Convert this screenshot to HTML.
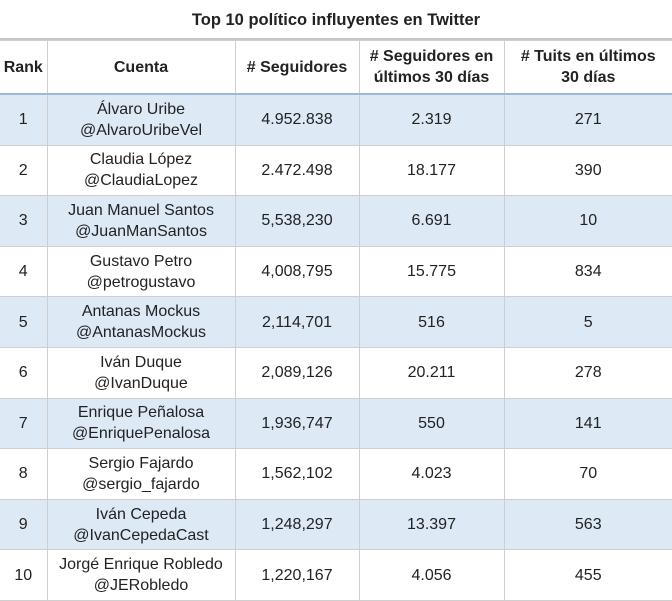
<!DOCTYPE html>
<html><head><meta charset="utf-8"><style>
body{margin:0;width:672px;height:600px;overflow:hidden;background:#fff;font-family:"Liberation Sans",Arial,sans-serif;color:#222}
.t{position:absolute;left:0;top:0;width:672px;height:40px;line-height:40px;text-align:center;font-weight:bold;font-size:16.5px;border-bottom:2px solid #c8c8c8;box-sizing:border-box}
table{position:absolute;left:0;top:40px;border-collapse:collapse;table-layout:fixed;width:672px}
td,th{border:1px solid #cfcfcf;text-align:center;font-size:16px;padding:0;line-height:21px}
th{height:52px;font-weight:bold;border-bottom:2px solid #9fb8d4}
td{height:49.6px}
tr.s td{background:#dde9f5}
td:first-child,th:first-child{border-left:none}
td:last-child,th:last-child{border-right:none}
</style></head><body>
<div class="t">Top 10 político influyentes en Twitter</div>
<table>
<colgroup><col style="width:47px"><col style="width:188px"><col style="width:124px"><col style="width:145px"><col style="width:168px"></colgroup>
<tr><th>Rank</th><th>Cuenta</th><th># Seguidores</th><th># Seguidores en<br>últimos 30 días</th><th># Tuits en últimos<br>30 días</th></tr>
<tr class="s"><td>1</td><td>Álvaro Uribe<br>@AlvaroUribeVel</td><td>4.952.838</td><td>2.319</td><td>271</td></tr>
<tr><td>2</td><td>Claudia López<br>@ClaudiaLopez</td><td>2.472.498</td><td>18.177</td><td>390</td></tr>
<tr class="s"><td>3</td><td>Juan Manuel Santos<br>@JuanManSantos</td><td>5,538,230</td><td>6.691</td><td>10</td></tr>
<tr><td>4</td><td>Gustavo Petro<br>@petrogustavo</td><td>4,008,795</td><td>15.775</td><td>834</td></tr>
<tr class="s"><td>5</td><td>Antanas Mockus<br>@AntanasMockus</td><td>2,114,701</td><td>516</td><td>5</td></tr>
<tr><td>6</td><td>Iván Duque<br>@IvanDuque</td><td>2,089,126</td><td>20.211</td><td>278</td></tr>
<tr class="s"><td>7</td><td>Enrique Peñalosa<br>@EnriquePenalosa</td><td>1,936,747</td><td>550</td><td>141</td></tr>
<tr><td>8</td><td>Sergio Fajardo<br>@sergio_fajardo</td><td>1,562,102</td><td>4.023</td><td>70</td></tr>
<tr class="s"><td>9</td><td>Iván Cepeda<br>@IvanCepedaCast</td><td>1,248,297</td><td>13.397</td><td>563</td></tr>
<tr><td>10</td><td>Jorgé Enrique Robledo<br>@JERobledo</td><td>1,220,167</td><td>4.056</td><td>455</td></tr>
</table>
</body></html>
